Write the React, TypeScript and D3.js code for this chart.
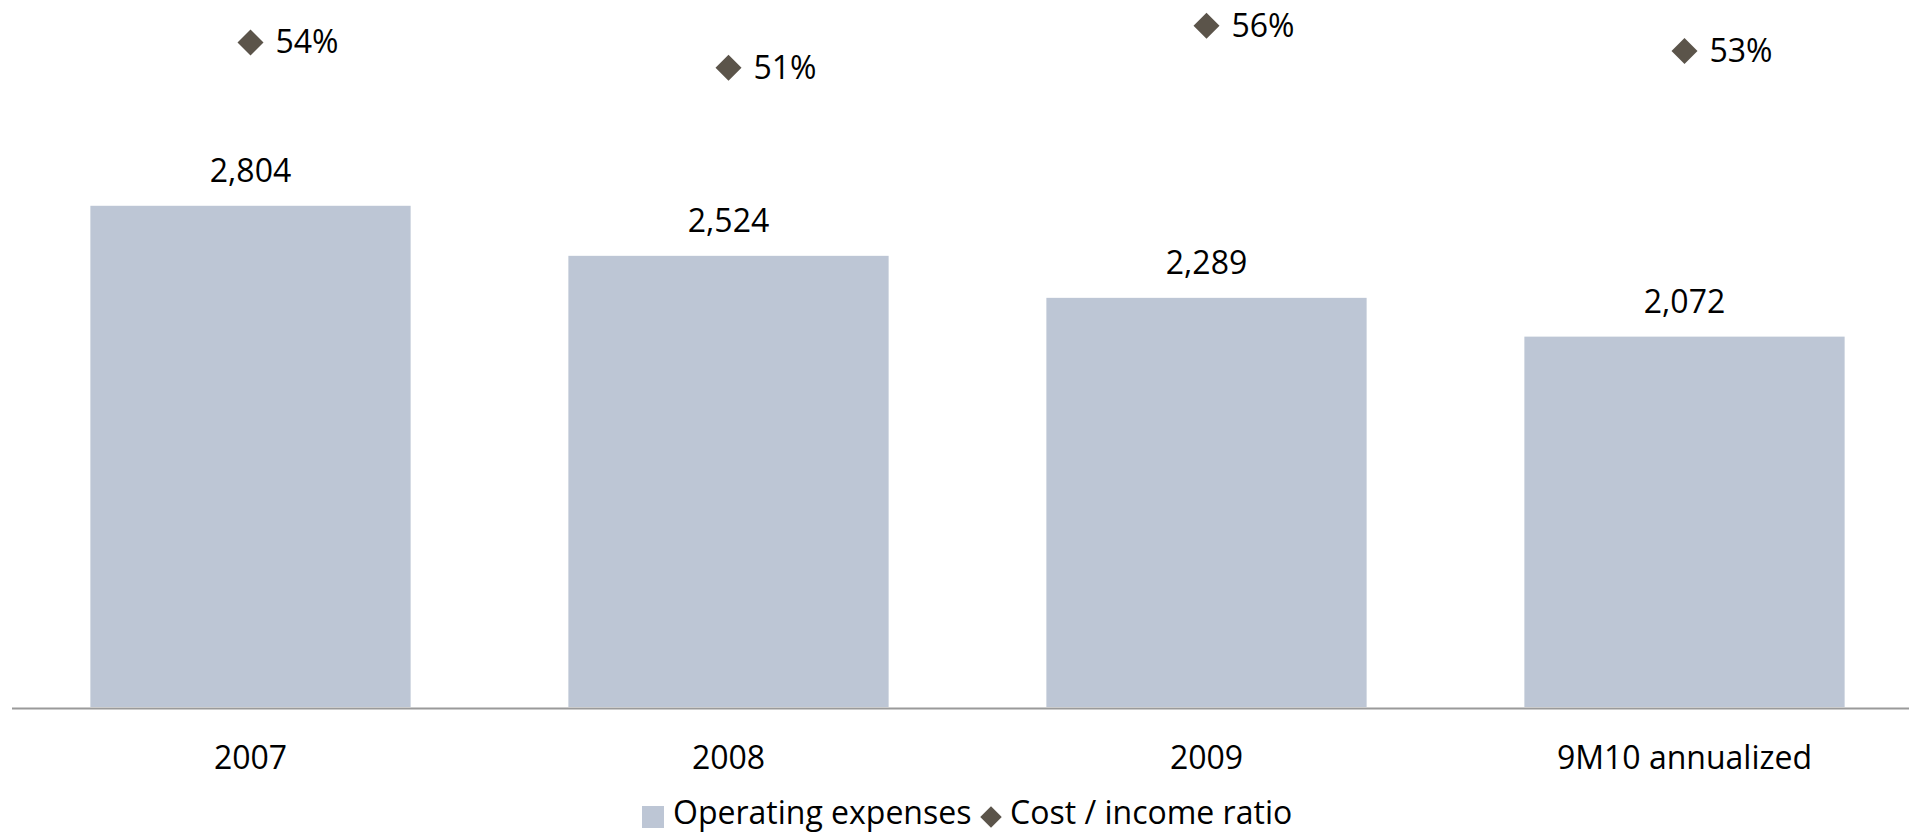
import React, { useEffect, useRef } from "react";
import * as d3 from "d3";

const categories = ["2007", "2008", "2009", "9M10 annualized"];
const operatingExpenses = [2804, 2524, 2289, 2072];
const costIncomeRatio = [54, 51, 56, 53];
const seriesNames = ["Operating expenses", "Cost / income ratio"];

const W = 1909;
const H = 832;
const BAR = "#bdc6d5";
const DIAMOND = "#5b544a";
const FONT = "'Open Sans', sans-serif";
const FS = 32;

export default function App() {
  const axisRef = useRef<SVGGElement>(null);

  const x = d3
    .scaleBand<string>()
    .domain(categories)
    .range([11.5, 1923.5])
    .paddingInner(0.33)
    .paddingOuter(0.165);
  const yL = d3.scaleLinear().domain([0, 4000]).range([707, -8]);
  const yR = d3.scaleLinear().domain([-25, 60]).range([707, -8]);
  const diamond = d3.symbol().type(d3.symbolSquare).size(338)();
  const legendDiamond = d3.symbol().type(d3.symbolSquare).size(230)();
  const fmt = d3.format(",");

  useEffect(() => {
    if (!axisRef.current) return;
    const g = d3.select(axisRef.current);
    g.call(d3.axisBottom(x).tickSize(0).tickPadding(38) as any);
    g.select(".domain").remove();
    g.selectAll("text")
      .attr("font-family", FONT)
      .attr("font-size", FS)
      .attr("fill", "#000");
  }, []);

  return (
    <div style={{ position: "absolute", left: 0, top: 0, width: W, height: H, background: "#fff" }}>
      <svg width={W} height={H} style={{ display: "block" }} fontFamily={FONT}>
        {categories.map((c, i) => (
          <g key={c}>
            <rect
              x={x(c)}
              y={yL(operatingExpenses[i])}
              width={x.bandwidth()}
              height={yL(0) - yL(operatingExpenses[i])}
              fill={BAR}
            />
            <text
              x={(x(c) as number) + x.bandwidth() / 2}
              y={yL(operatingExpenses[i]) - 24}
              textAnchor="middle"
              fontSize={FS}
              fill="#000"
            >
              {fmt(operatingExpenses[i])}
            </text>
            <path
              d={diamond as string}
              transform={`translate(${(x(c) as number) + x.bandwidth() / 2},${yR(costIncomeRatio[i])}) rotate(45)`}
              fill={DIAMOND}
            />
            <text
              x={(x(c) as number) + x.bandwidth() / 2 + 25}
              y={yR(costIncomeRatio[i]) + 11}
              fontSize={FS}
              fill="#000"
            >
              {costIncomeRatio[i]}%
            </text>
          </g>
        ))}
        <line x1={12} x2={W} y1={708.5} y2={708.5} stroke="#9a9a9a" strokeWidth={2} />
        <g ref={axisRef} transform="translate(0,708)" />
        <g>
          <rect x={642} y={806} width={22} height={22} fill={BAR} />
          <text x={673} y={824} fontSize={FS} fill="#000">
            {seriesNames[0]}
          </text>
          <path d={legendDiamond as string} transform="translate(991,817) rotate(45)" fill={DIAMOND} />
          <text x={1010} y={824} fontSize={FS} fill="#000">
            {seriesNames[1]}
          </text>
        </g>
      </svg>
    </div>
  );
}
